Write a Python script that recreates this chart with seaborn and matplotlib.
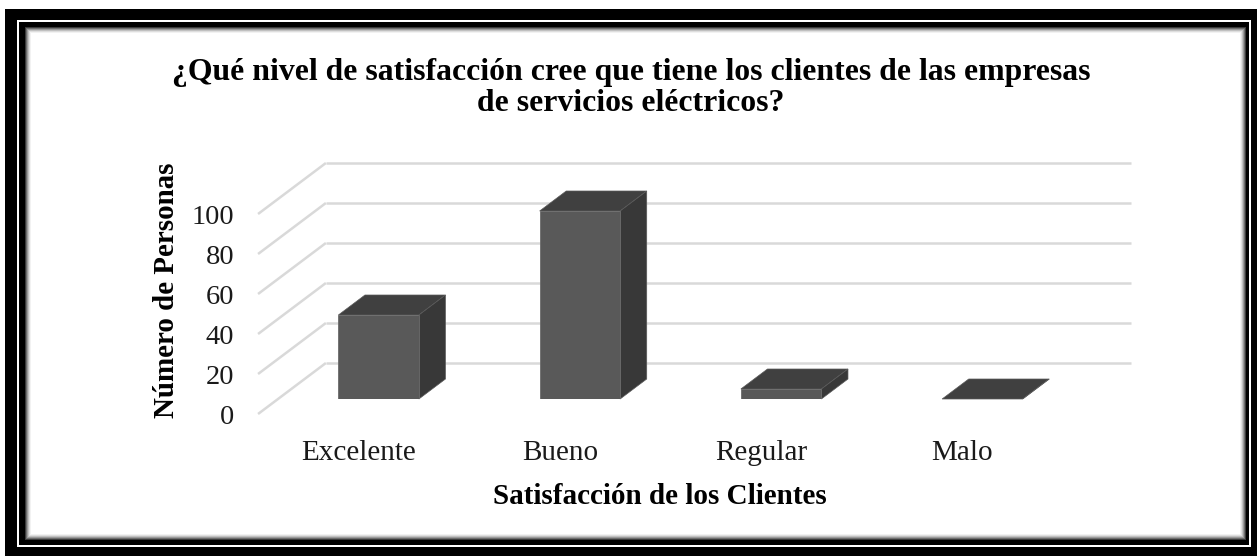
import matplotlib
matplotlib.use("Agg")
import matplotlib.pyplot as plt
import seaborn as sns
import pandas as pd
from matplotlib.patches import Polygon, Rectangle

# ---- data ----
categorias = ["Excelente", "Bueno", "Regular", "Malo"]
personas = [42, 94, 5, 0]
ticks_y = [0, 20, 40, 60, 80, 100]
titulo = ("¿Qué nivel de satisfacción cree que tiene los clientes de las empresas\n"
          "de servicios eléctricos?")
etiqueta_x = "Satisfacción de los Clientes"
etiqueta_y = "Número de Personas"

# ---- figure setup ----
W, H, DPI = 1257, 556, 100
sns.set_style("white")
plt.rcParams["font.family"] = ["Liberation Serif", "DejaVu Serif"]
fig = plt.figure(figsize=(W / DPI, H / DPI), dpi=DPI)
fig.patch.set_facecolor("white")


def box(x0, y0, x1, y1):
    """Figure-fraction rectangle from pixel corners (origin top-left)."""
    return [x0 / W, 1 - y1 / H, (x1 - x0) / W, (y1 - y0) / H]


def frame_rect(x0, y0, x1, y1, color):
    l, b, w, h = box(x0, y0, x1, y1)
    fig.patches.append(Rectangle((l, b), w, h, transform=fig.transFigure,
                                 facecolor=color, edgecolor="none", zorder=-10))


# double black frame with a soft inner shadow
frame_rect(5, 9, W + 2, H + 2, "black")
frame_rect(17, 20, 1251, 547, "white")
frame_rect(19, 22, 1249, 545, "black")
shades = ["#3a3a3a", "#6e6e6e", "#9a9a9a", "#c0c0c0", "#dedede", "#f2f2f2", "white"]
for i, c in enumerate(shades):
    frame_rect(25 + i, 27 + i, 1246 - i, 540 - i, c)

# depth of the pseudo-3D view, in pixels
K = 1.33            # horizontal shift per pixel of vertical depth
D_FRONT = -15       # front edge (tick labels) relative to bar front faces
D_BAR = 20          # bar depth
D_WALL = 36         # back wall relative to bar front faces

# axes carrying the bar front faces
ax = fig.add_axes(box(278, 199, 1083, 399))
ax.set_xlim(-0.5, 3.5)
ax.set_ylim(0, 100)
ax.axis("off")
sx = 4 / 805        # data units per pixel
sy = 100 / 200

# axes on the front plane carrying tick labels
axf = fig.add_axes(box(258, 214, 1063, 414))
axf.set_xlim(-0.5, 3.5)
axf.set_ylim(0, 100)
axf.patch.set_alpha(0)
for s in axf.spines.values():
    s.set_visible(False)
axf.set_yticks(ticks_y)
axf.set_yticklabels([str(t) for t in ticks_y])
axf.set_xticks(range(len(categorias)))
axf.set_xticklabels(categorias)
axf.tick_params(axis="y", length=0, pad=17, labelsize=20.5, labelcolor="#1a1a1a")
axf.tick_params(axis="x", length=0, pad=18.5, labelsize=21, labelcolor="#1a1a1a")

# back wall gridlines and the diagonal floor/side lines
grid_kw = dict(color="#d9d9d9", lw=1.8, clip_on=False, zorder=0,
               solid_capstyle="butt")
wx, wy = D_WALL * K * sx, D_WALL * sy
fx, fy = D_FRONT * K * sx, D_FRONT * sy
for t in ticks_y:
    ax.plot([-0.5 + wx, 3.5 + wx], [t + wy, t + wy], **grid_kw)
    ax.plot([-0.5 + fx, -0.5 + wx], [t + fy, t + wy], **grid_kw)

# bar front faces through seaborn
df = pd.DataFrame({"categoria": categorias, "personas": personas})
sns.barplot(data=df, x="categoria", y="personas", ax=ax, color="#595959",
            width=0.4, saturation=1, edgecolor="#6b6b6b", linewidth=0.6,
            zorder=3)
ax.set_xlim(-0.5, 3.5)
ax.set_ylim(0, 100)
ax.axis("off")

# top and side faces of each bar
bx, by = D_BAR * K * sx, D_BAR * sy
for p in list(ax.patches):
    x0 = p.get_x()
    x1 = x0 + p.get_width()
    h = p.get_height()
    top = Polygon([(x0, h), (x1, h), (x1 + bx, h + by), (x0 + bx, h + by)],
                  closed=True, facecolor="#404040", edgecolor="#5a5a5a",
                  lw=0.5, clip_on=False, zorder=2)
    side = Polygon([(x1, 0), (x1, h), (x1 + bx, h + by), (x1 + bx, by)],
                   closed=True, facecolor="#383838", edgecolor="#5a5a5a",
                   lw=0.5, clip_on=False, zorder=2)
    ax.add_patch(top)
    ax.add_patch(side)

# titles
fig.text(631 / W, 1 - 88 / H, titulo, ha="center", va="center",
         fontsize=22.9, fontweight="bold", color="black", linespacing=1.08)
fig.text(660 / W, 1 - 496 / H, etiqueta_x, ha="center", va="center",
         fontsize=21, fontweight="bold", color="black")
fig.text(167 / W, 1 - 290 / H, etiqueta_y, ha="center", va="center",
         rotation=90, fontsize=20.9, fontweight="bold", color="black")

fig.savefig("out.png", dpi=DPI)
